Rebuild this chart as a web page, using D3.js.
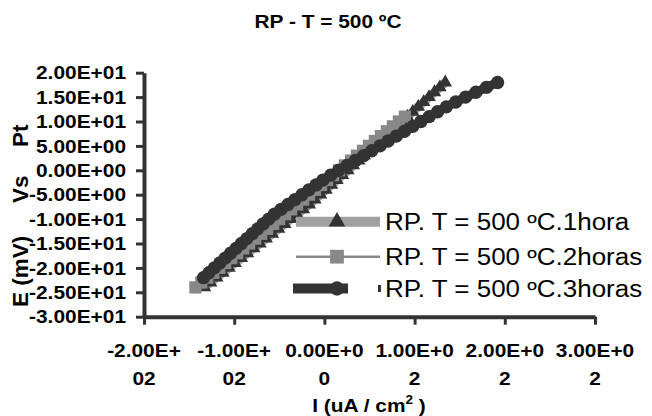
<!DOCTYPE html>
<html><head><meta charset="utf-8">
<script src="https://cdn.jsdelivr.net/npm/d3@7/dist/d3.min.js"></script>
<style>body{margin:0;background:#fff}svg{display:block}text{font-family:"Liberation Sans",Arial,sans-serif}</style>
</head><body><svg id="c" width="652" height="416"></svg>
<script>
// ---- data ----
const title = "RP - T = 500 ºC";
const seriesNames = ["RP. T = 500 ºC.1hora", "RP. T = 500 ºC.2horas", "RP. T = 500 ºC.3horas"];
const xTicks = [-200, -100, 0, 100, 200, 300];
const xTickLine1 = ["-2.00E+", "-1.00E+", "0.00E+0", "1.00E+0", "2.00E+0", "3.00E+0"];
const xTickLine2 = ["02", "02", "0", "2", "2", "2"];
const yTicks = [20, 15, 10, 5, 0, -5, -10, -15, -20, -25, -30];
const yTickLabels = ["2.00E+01","1.50E+01","1.00E+01","5.00E+00","0.00E+00","-5.00E+00","-1.00E+01","-1.50E+01","-2.00E+01","-2.50E+01","-3.00E+01"];

// series 1 (1 hora): I (x), E (y)
const s1I = [-133,-126.2,-119.4,-112.6,-105.8,-99,-92.1,-85.3,-78.4,-71.5,-64.6,-57.8,-50.9,-44,-37.2,-30.3,-23.4,-16.8,-10.6,-4.4,1.7,7.8,13.9,20,26,32,38,44,50,56,62,68,74,80,86,92,98,104,110,116,122,128,134];
const s1E = [-24,-23,-22,-21,-20,-19,-18,-17,-16,-15,-14,-13,-12,-11,-10,-9,-8,-7,-6,-5,-4,-3,-2,-1,0,1,2,3,4,5,6,7,8,9,10,11,12,13,14,15,16,17,18];
// series 2 (2 horas)
const s2I = [-143,-136.5,-129.8,-123.2,-116.6,-110,-103.3,-96.7,-90,-83.4,-76.8,-70.1,-63.5,-56.8,-50.2,-43.5,-36.9,-30.3,-23.6,-17,-10.4,-3.7,2.9,9.6,16.2,22.8,29.5,36.1,42.8,49.4,56,62.7,69.3,75.9,82.6,89.2];
const s2E = [-24,-23,-22,-21,-20,-19,-18,-17,-16,-15,-14,-13,-12,-11,-10,-9,-8,-7,-6,-5,-4,-3,-2,-1,0,1,2,3,4,5,6,7,8,9,10,11];
// series 3 (3 horas)
const s3I = [-134,-128,-122,-116,-110,-104,-98,-92,-86,-80,-74,-68,-61.8,-55.5,-48,-40.3,-32.6,-24.9,-17.1,-9.3,-1.6,7,16,25.2,34.3,43.4,52.5,61.6,70.6,79.7,88.8,97.9,107,116.2,125.5,135.2,145.6,156.5,168,179.8,192];
const s3E = [-22,-21,-20,-19,-18,-17,-16,-15,-14,-13,-12,-11,-10,-9,-8,-7,-6,-5,-4,-3,-2,-1,0,1,2,3,4,5,6,7,8,9,10,11,12,13,14,15,16,17,18];

// ---- chart ----
const svg = d3.select("#c");
const SX = 1.13;
const axisColor = "#333";
const x = d3.scaleLinear().domain([-200, 300]).range([144, 595]);
const y = d3.scaleLinear().domain([-30, 20]).range([316.7, 72.7]);

function stext(g, px, py, str, size, weight, anchor) {
  return g.append("text")
    .attr("transform", `translate(${px},${py}) scale(${SX},1)`)
    .attr("font-size", size).attr("font-weight", weight)
    .attr("text-anchor", anchor).attr("fill", "#000").text(str);
}

// title
stext(svg, 328, 28.3, title, 18.5, "bold", "middle");

// axes
const gx = svg.append("g").attr("transform", `translate(0,${y(-30)})`)
  .call(d3.axisBottom(x).tickValues(xTicks).tickSize(8).tickSizeOuter(0).tickFormat(""));
const gy = svg.append("g").attr("transform", `translate(${x(-200)},0)`)
  .call(d3.axisLeft(y).tickValues(yTicks).tickSize(8).tickSizeOuter(0).tickFormat(""));
[gx, gy].forEach(g => {
  g.selectAll("path.domain").attr("stroke", axisColor).attr("stroke-width", 4);
  g.selectAll(".tick line").attr("stroke", axisColor).attr("stroke-width", 3);
});

// y tick labels
yTicks.forEach((v, i) => stext(svg, 126, y(v) + 6.6, yTickLabels[i], 18.5, "bold", "end"));
// x tick labels
xTicks.forEach((v, i) => {
  stext(svg, x(v), 356.7, xTickLine1[i], 18.5, "bold", "middle");
  stext(svg, x(v), 385, xTickLine2[i], 18.5, "bold", "middle");
});

// x axis title
const xt = stext(svg, 369, 411.7, "", 18.5, "bold", "middle");
xt.append("tspan").text("I (uA / cm");
xt.append("tspan").attr("font-size", 12).attr("dy", -8).text("2");
xt.append("tspan").attr("dy", 8).text(" )");

// y axis title (rotated, words placed along the axis)
const yt = svg.append("g").attr("transform", "translate(28,0) rotate(-90)");
[["E (mV)", 307], ["Vs", 203], ["Pt", 147]].forEach(([w, p]) => {
  yt.append("text").attr("x", -p).attr("y", 0).attr("font-size", 22.5)
    .attr("font-weight", "bold").attr("fill", "#000").text(w);
});

// series
const series = [
  { I: s1I, E: s1E, lineColor: "#a0a0a0", lineW: 9, sym: d3.symbolTriangle, size: 80, mColor: "#333" },
  { I: s2I, E: s2E, lineColor: "#888", lineW: 2.5, sym: d3.symbolSquare, size: 150, mColor: "#888" },
  { I: s3I, E: s3E, lineColor: "#333", lineW: 9, sym: d3.symbolCircle, size: 140, mColor: "#333" }
];
const line = d3.line().x(d => x(d[0])).y(d => y(d[1]));
series.forEach(s => {
  const pts = s.I.map((v, i) => [v, s.E[i]]);
  svg.append("path").datum(pts).attr("d", line).attr("fill", "none")
    .attr("stroke", s.lineColor).attr("stroke-width", s.lineW);
  svg.append("g").selectAll("path").data(pts).join("path")
    .attr("transform", d => `translate(${x(d[0])},${y(d[1])})`)
    .attr("d", d3.symbol().type(s.sym).size(s.size)).attr("fill", s.mColor);
});

// legend
const legRows = [221.7, 256.7, 288.5];
const leg = svg.append("g");
series.forEach((s, i) => {
  const ly = legRows[i];
  const x1 = i === 2 ? 293 : 296, x2 = i === 2 ? 348 : 380;
  leg.append("line").attr("x1", x1).attr("x2", x2).attr("y1", ly).attr("y2", ly)
    .attr("stroke", s.lineColor).attr("stroke-width", i === 1 ? 2.5 : 10);
  if (i === 2) leg.append("rect").attr("x", 378).attr("y", ly - 3.5).attr("width", 3).attr("height", 7).attr("fill", s.lineColor);
  leg.append("path").attr("transform", `translate(337,${ly})`)
    .attr("d", d3.symbol().type(s.sym).size(i === 0 ? 120 : (i === 1 ? 190 : 160))).attr("fill", s.mColor);
  stext(leg, 385, ly + 8.7, seriesNames[i], 23, "normal", "start");
});
</script></body></html>
